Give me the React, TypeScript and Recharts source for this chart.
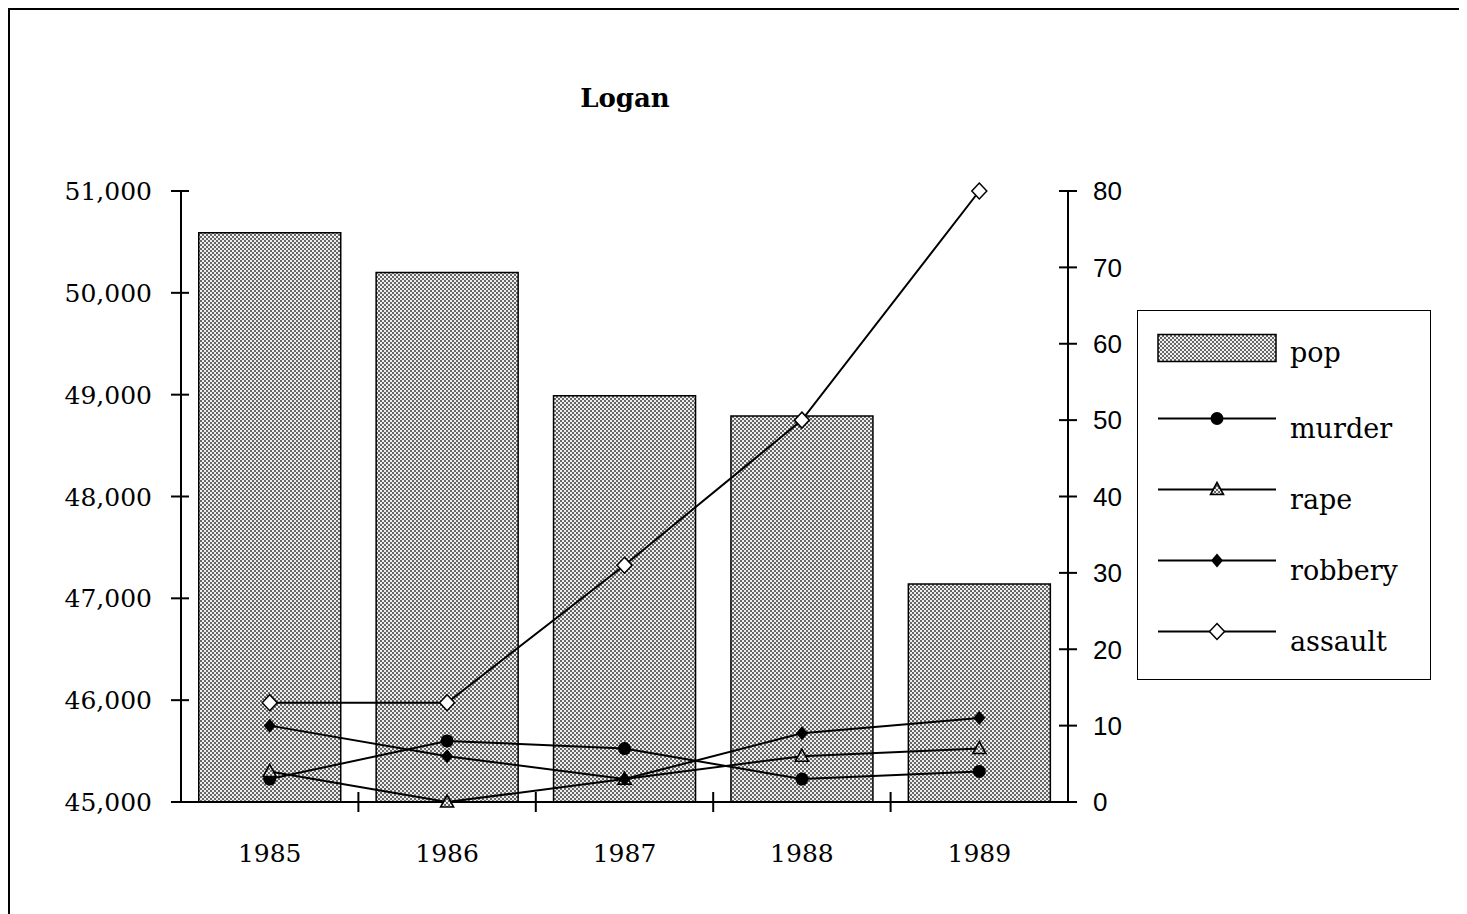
import React from 'react';
import { ComposedChart, Bar, Line, XAxis, YAxis, Legend } from 'recharts';

// values
const years = ['1985', '1986', '1987', '1988', '1989'];
const pop = [50590, 50200, 48990, 48790, 47140];
const murder = [3, 8, 7, 3, 4];
const rape = [4, 0, 3, 6, 7];
const robbery = [10, 6, 3, 9, 11];
const assault = [13, 13, 31, 50, 80];

const popTicks = [45000, 46000, 47000, 48000, 49000, 50000, 51000];
const crimeTicks = [0, 10, 20, 30, 40, 50, 60, 70, 80];
// tick marks sit between the year slots
const bandEdges = [0.5, 1.5, 2.5, 3.5];
const legendOrder = ['pop', 'murder', 'rape', 'robbery', 'assault'];

const data = years.map((year, i) => ({
    year,
    idx: i,
    pop: pop[i],
    murder: murder[i],
    rape: rape[i],
    robbery: robbery[i],
    assault: assault[i],
}));

const SERIF = '"DejaVu Serif", serif';
const SANS = '"Liberation Sans", Arial, sans-serif';

const LeftTick = (props: any) => {
    const { x, y, payload } = props;
    return (
        <g>
            <line x1={x - 10} x2={x + 8} y1={y} y2={y} stroke="#000" strokeWidth={2} />
            <text x={x - 29} y={y} dy="0.36em" textAnchor="end" fontFamily={SERIF} fontSize={25} fill="#000">
                {Number(payload.value).toLocaleString('en-US')}
            </text>
        </g>
    );
};

const RightTick = (props: any) => {
    const { x, y, payload } = props;
    return (
        <g>
            <line x1={x - 9} x2={x + 9} y1={y} y2={y} stroke="#000" strokeWidth={2} />
            <text x={x + 25} y={y} dy="0.36em" textAnchor="start" fontFamily={SANS} fontSize={26} fill="#000">
                {payload.value}
            </text>
        </g>
    );
};

const EdgeTick = (props: any) => {
    const { x, y } = props;
    return <line x1={x} x2={x} y1={y - 10} y2={y + 10} stroke="#000" strokeWidth={2} />;
};

const Marker = ({ kind, cx, cy }: { kind: string; cx: number; cy: number }) => {
    if (cx == null || cy == null) return null;
    if (kind === 'murder') return <circle cx={cx} cy={cy} r={6.5} fill="#000" />;
    if (kind === 'rape')
        return (
            <polygon
                points={`${cx},${cy - 7} ${cx - 6.5},${cy + 5} ${cx + 6.5},${cy + 5}`}
                fill="url(#dots)"
                stroke="#000"
                strokeWidth={1.6}
            />
        );
    if (kind === 'robbery')
        return <polygon points={`${cx},${cy - 7} ${cx + 6},${cy} ${cx},${cy + 7} ${cx - 6},${cy}`} fill="#000" />;
    return (
        <polygon
            points={`${cx},${cy - 8} ${cx + 7.5},${cy} ${cx},${cy + 8} ${cx - 7.5},${cy}`}
            fill="#fff"
            stroke="#000"
            strokeWidth={1.5}
        />
    );
};

const dotFor = (kind: string) => (p: any) => <Marker key={`${kind}-${p.index}`} kind={kind} cx={p.cx} cy={p.cy} />;

const renderLegend = (props: any) => {
    const items = [...(props.payload || [])].sort(
        (a: any, b: any) => legendOrder.indexOf(String(a.dataKey)) - legendOrder.indexOf(String(b.dataKey))
    );
    return (
        <div style={{ width: 292, height: 368, border: '1.5px solid #000', background: '#fff' }}>
            <svg width={292} height={368}>
                {items.map((item: any, i: number) => {
                    const rowY = 36.5 + i * 71;
                    const key = String(item.dataKey);
                    return (
                        <g key={key}>
                            {key === 'pop' ? (
                                <rect x={20} y={rowY - 13} width={118} height={27} fill="url(#dots)" stroke="#000" strokeWidth={1.5} />
                            ) : (
                                <g>
                                    <line x1={20} x2={138} y1={rowY} y2={rowY} stroke="#000" strokeWidth={2} />
                                    <Marker kind={key} cx={79} cy={rowY} />
                                </g>
                            )}
                            <text x={152} y={key === 'pop' ? rowY + 14 : rowY + 19} fontFamily={SERIF} fontSize={27} fill="#000">
                                {item.value}
                            </text>
                        </g>
                    );
                })}
            </svg>
        </div>
    );
};

const App: React.FC = () => {
    return (
        <div
            style={{
                position: 'relative',
                width: 1457,
                height: 904,
                borderLeft: '2px solid #000',
                borderTop: '2px solid #000',
                background: '#fff',
            }}
        >
            <svg width={0} height={0} style={{ position: 'absolute' }}>
                <defs>
                    <pattern id="dots" patternUnits="userSpaceOnUse" width={4} height={4}>
                        <rect width={4} height={4} fill="#eeeeee" />
                        <rect x={0} y={0} width={2} height={2} fill="#666" />
                        <rect x={2} y={2} width={2} height={2} fill="#666" />
                    </pattern>
                </defs>
            </svg>
            <div
                style={{
                    position: 'absolute',
                    left: 515,
                    top: 75,
                    width: 200,
                    textAlign: 'center',
                    fontFamily: SERIF,
                    fontWeight: 'bold',
                    fontSize: 26,
                    lineHeight: '26px',
                }}
            >
                Logan
            </div>
            <ComposedChart
                width={1455}
                height={904}
                data={data}
                margin={{ top: 181, right: 317, bottom: 51, left: 71 }}
            >
                <XAxis
                    xAxisId="year"
                    dataKey="year"
                    height={60}
                    axisLine={false}
                    tickLine={false}
                    tickSize={0}
                    tickMargin={41}
                    tick={{ fill: '#000', fontFamily: SERIF, fontSize: 25 }}
                    interval={0}
                />
                <XAxis
                    xAxisId="edge"
                    dataKey="idx"
                    type="number"
                    domain={[-0.5, 4.5]}
                    ticks={bandEdges}
                    allowDataOverflow
                    height={1}
                    axisLine={{ stroke: '#000', strokeWidth: 2 }}
                    tickLine={false}
                    tickSize={0}
                    tickMargin={0}
                    tick={<EdgeTick />}
                    interval={0}
                />
                <YAxis
                    yAxisId="left"
                    domain={[45000, 51000]}
                    ticks={popTicks}
                    width={100}
                    axisLine={{ stroke: '#000', strokeWidth: 2 }}
                    tickLine={false}
                    tickSize={0}
                    tickMargin={0}
                    tick={<LeftTick />}
                    interval={0}
                    allowDataOverflow
                />
                <YAxis
                    yAxisId="right"
                    orientation="right"
                    domain={[0, 80]}
                    ticks={crimeTicks}
                    width={80}
                    axisLine={{ stroke: '#000', strokeWidth: 2 }}
                    tickLine={false}
                    tickSize={0}
                    tickMargin={0}
                    tick={<RightTick />}
                    interval={0}
                />
                <Legend
                    layout="vertical"
                    align="center"
                    verticalAlign="middle"
                    wrapperStyle={{ left: 1127, top: 300, width: 295, height: 371 }}
                    content={renderLegend}
                />
                <Bar
                    xAxisId="year"
                    yAxisId="left"
                    dataKey="pop"
                    name="pop"
                    fill="url(#dots)"
                    stroke="#000"
                    strokeWidth={1.5}
                    barCategoryGap="10.5%"
                    isAnimationActive={false}
                />
                <Line xAxisId="year" yAxisId="right" dataKey="murder" name="murder" stroke="#000" strokeWidth={2} dot={dotFor('murder')} isAnimationActive={false} />
                <Line xAxisId="year" yAxisId="right" dataKey="rape" name="rape" stroke="#000" strokeWidth={2} dot={dotFor('rape')} isAnimationActive={false} />
                <Line xAxisId="year" yAxisId="right" dataKey="robbery" name="robbery" stroke="#000" strokeWidth={2} dot={dotFor('robbery')} isAnimationActive={false} />
                <Line xAxisId="year" yAxisId="right" dataKey="assault" name="assault" stroke="#000" strokeWidth={2} dot={dotFor('assault')} isAnimationActive={false} />
            </ComposedChart>
        </div>
    );
};

export default App;
